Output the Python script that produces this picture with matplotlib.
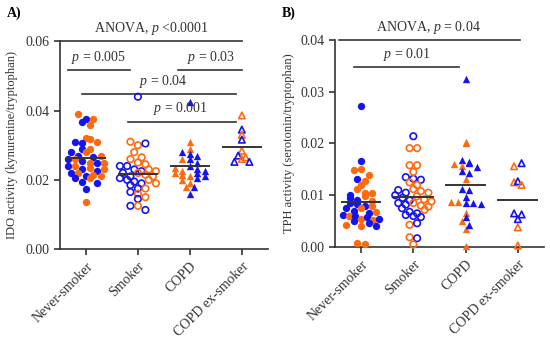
import matplotlib
matplotlib.use("Agg")
import matplotlib.pyplot as plt
import numpy as np

plt.rcParams["font.family"] = ["Liberation Serif", "DejaVu Serif"]
plt.rcParams["mathtext.fontset"] = "custom"
plt.rcParams["mathtext.rm"] = "Liberation Serif"
plt.rcParams["mathtext.it"] = "Liberation Serif:italic"

groups = ["Never-smoker", "Smoker", "COPD", "COPD ex-smoker"]

# IDO activity (kynurenine/tryptophan), split by point colour
ido_never_orange = [0.0390, 0.0375, 0.0357, 0.0320, 0.0318, 0.0310, 0.0290, 0.0280, 0.0270, 0.0260,
                    0.0250, 0.0250, 0.0240, 0.0235, 0.0230, 0.0220, 0.0215, 0.0210, 0.0205, 0.0135]
ido_never_blue = [0.0375, 0.0368, 0.0310, 0.0305, 0.0290, 0.0280, 0.0270, 0.0265, 0.0260, 0.0255,
                  0.0250, 0.0240, 0.0230, 0.0225, 0.0220, 0.0210, 0.0205, 0.0195, 0.0190, 0.0175]
ido_smoker_orange = [0.0310, 0.0300, 0.0280, 0.0265, 0.0260, 0.0250, 0.0245, 0.0230, 0.0225, 0.0220,
                     0.0215, 0.0210, 0.0200, 0.0190, 0.0175, 0.0160, 0.0150, 0.0125]
ido_smoker_blue = [0.0440, 0.0305, 0.0240, 0.0240, 0.0230, 0.0225, 0.0220, 0.0210, 0.0205, 0.0200,
                   0.0195, 0.0190, 0.0185, 0.0175, 0.0165, 0.0145, 0.0125, 0.0113]
ido_copd_orange = [0.0310, 0.0290, 0.0260, 0.0235, 0.0225, 0.0220, 0.0215, 0.0210, 0.0200, 0.0190, 0.0180]
ido_copd_blue = [0.0426, 0.0280, 0.0275, 0.0270, 0.0260, 0.0250, 0.0240, 0.0230, 0.0225, 0.0220,
                 0.0210, 0.0205, 0.0180, 0.0160]
ido_ex_orange = [0.0386, 0.0330, 0.0284, 0.0265, 0.0260]
ido_ex_blue = [0.0345, 0.0316, 0.0270, 0.0252, 0.0252]

# TPH activity (serotonin/tryptophan)
tph_never_orange = [0.0148, 0.0150, 0.0140, 0.0128, 0.0120, 0.0113, 0.0104, 0.0104, 0.0098, 0.0088,
                    0.0080, 0.0075, 0.0068, 0.0060, 0.0055, 0.0053, 0.0043, 0.0040, 0.0008, 0.0006]
tph_never_blue = [0.0272, 0.0166, 0.0132, 0.0101, 0.0095, 0.0090, 0.0085, 0.0083, 0.0080, 0.0075,
                  0.0070, 0.0065, 0.0062, 0.0060, 0.0058, 0.0055, 0.0050, 0.0046, 0.0040]
tph_smoker_orange = [0.0191, 0.0191, 0.0158, 0.0158, 0.0145, 0.0125, 0.0120, 0.0112, 0.0108, 0.0105,
                     0.0098, 0.0092, 0.0088, 0.0085, 0.0080, 0.0078, 0.0072, 0.0043, 0.0019, 0.0005]
tph_smoker_blue = [0.0214, 0.0135, 0.0132, 0.0130, 0.0110, 0.0105, 0.0100, 0.0095, 0.0090, 0.0085,
                   0.0082, 0.0075, 0.0068, 0.0065, 0.0062, 0.0060, 0.0058, 0.0046, 0.0017]
tph_copd_orange = [0.0203, 0.0200, 0.0160, 0.0156, 0.0131, 0.0087, 0.0087, 0.0066, 0.0050, 0.0034, 0.0002]
tph_copd_blue = [0.0324, 0.0168, 0.0165, 0.0162, 0.0154, 0.0147, 0.0143, 0.0112, 0.0110, 0.0097,
                 0.0086, 0.0085, 0.0084, 0.0058, 0.0043]
tph_ex_orange = [0.0156, 0.0125, 0.0120, 0.0038, 0.0003]
tph_ex_blue = [0.0162, 0.0127, 0.0065, 0.0063, 0.0054]

ORANGE = "#FF6A10"
BLUE = "#1414F0"
INK = "#333333"


def row_offsets(values, px_per_x, px_per_y, row_h=6.5, step=7.5, max_half=18):
    """GraphPad-like scatter: values in the same row (bin) are spread sideways."""
    values = np.asarray(values)
    offsets = np.zeros(len(values))
    bins = np.floor(values * px_per_y / row_h).astype(int)
    for b in np.unique(bins):
        idx = np.where(bins == b)[0]
        n = len(idx)
        st = step if n < 2 else min(step, 2 * max_half / (n - 1))
        offsets[idx] = (np.arange(n) - (n - 1) / 2) * st
    return offsets / px_per_x


def draw_panel(ax, data, ymax, px_per_x, px_per_y):
    markers = ["o", "o", "^", "^"]
    filled = [True, False, True, False]
    for gi, (orange, blue) in enumerate(data):
        # interleave colours so rows mix both
        vals, cols = [], []
        for k in range(max(len(orange), len(blue))):
            if k < len(orange):
                vals.append(orange[k]); cols.append(ORANGE)
            if k < len(blue):
                vals.append(blue[k]); cols.append(BLUE)
        vals = np.array(vals)
        offs = row_offsets(vals, px_per_x, px_per_y)
        for v, o, c in zip(vals, offs, cols):
            if filled[gi]:
                ax.scatter(gi + o, v, s=28, marker=markers[gi], color=c, linewidths=0,
                           zorder=3, clip_on=False)
            else:
                ax.scatter(gi + o, v, s=22, marker=markers[gi], facecolors="none",
                           edgecolors=c, linewidths=1.2, zorder=3, clip_on=False)
        ax.plot([gi - 0.37, gi + 0.37], [vals.mean()] * 2, color=INK, lw=1.4, zorder=4)

    ax.set_xlim(-0.5, 3.5)
    ax.set_ylim(0, ymax)
    ax.set_xticks(range(4))
    ax.set_xticklabels(groups, rotation=45, ha="right", rotation_mode="anchor")
    for s in ["top", "right"]:
        ax.spines[s].set_visible(False)
    for s in ["left", "bottom"]:
        ax.spines[s].set_color(INK)
        ax.spines[s].set_linewidth(1.2)
    ax.tick_params(colors=INK, labelsize=10, width=1.2, length=4, direction="out")


def bracket(ax, x0, x1, y, label, xt):
    ax.plot([x0, x1], [y, y], color=INK, lw=1.2, clip_on=False)
    ax.annotate(label, (xt, y), xytext=(0, 3), textcoords="offset points",
                ha="center", va="bottom", fontsize=10, color=INK, annotation_clip=False)


fig = plt.figure(figsize=(5.5, 3.47), dpi=100)
ax1 = fig.add_axes([0.109, 0.282, 0.378, 0.599])
ax2 = fig.add_axes([0.609, 0.288, 0.380, 0.597])

draw_panel(ax1, [(ido_never_orange, ido_never_blue), (ido_smoker_orange, ido_smoker_blue),
                 (ido_copd_orange, ido_copd_blue), (ido_ex_orange, ido_ex_blue)],
           0.06, 52, 208 / 0.06)
ax1.set_yticks([0.00, 0.02, 0.04, 0.06])
ax1.set_yticklabels(["0.00", "0.02", "0.04", "0.06"])
ax1.set_ylabel("IDO activity (kynurenine/tryptophan)", fontsize=9, color=INK)
ax1.yaxis.set_label_coords(-0.20, 0.5)

bracket(ax1, -0.5, 3.0, 0.06, r"ANOVA, $p$ <0.0001", 1.25)
bracket(ax1, -0.35, 0.85, 0.0516, r"$p$ = 0.005", 0.25)
bracket(ax1, 1.78, 3.0, 0.0516, r"$p$ = 0.03", 2.40)
bracket(ax1, -0.08, 2.88, 0.0447, r"$p$ = 0.04", 1.49)
bracket(ax1, 0.81, 2.88, 0.0368, r"$p$ = 0.001", 1.82)

draw_panel(ax2, [(tph_never_orange, tph_never_blue), (tph_smoker_orange, tph_smoker_blue),
                 (tph_copd_orange, tph_copd_blue), (tph_ex_orange, tph_ex_blue)],
           0.04, 52, 207 / 0.04)
ax2.set_yticks([0.00, 0.01, 0.02, 0.03, 0.04])
ax2.set_yticklabels(["0.00", "0.01", "0.02", "0.03", "0.04"])
ax2.set_ylabel("TPH activity (serotonin/tryptophan)", fontsize=9, color=INK)
ax2.yaxis.set_label_coords(-0.19, 0.5)

bracket(ax2, -0.42, 3.04, 0.04, r"ANOVA, $p$ = 0.04", 1.29)
bracket(ax2, -0.13, 1.88, 0.0347, r"$p$ = 0.01", 0.88)

fig.text(7 / 550, 1 - 13 / 347, "A)", fontsize=10, fontweight="bold", va="center")
fig.text(282 / 550, 1 - 13 / 347, "B)", fontsize=10, fontweight="bold", va="center")

fig.savefig("out.png", dpi=100)
